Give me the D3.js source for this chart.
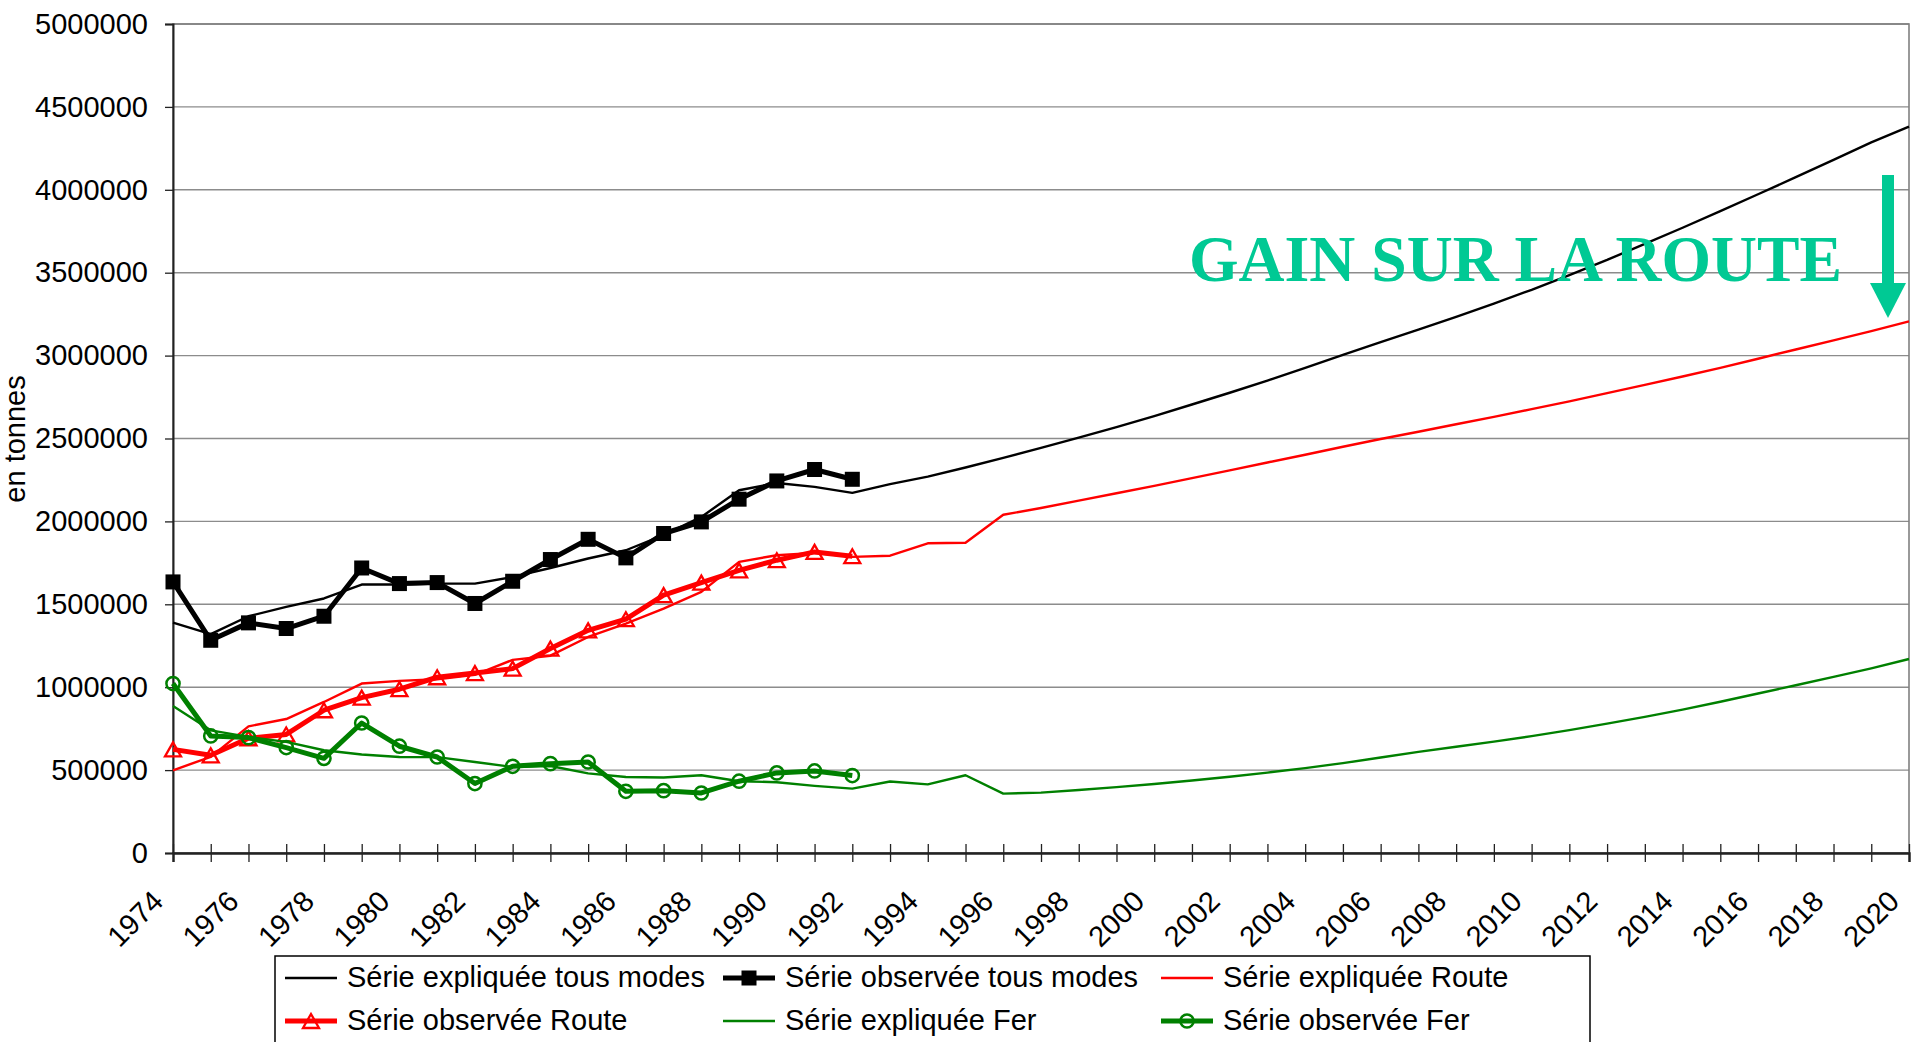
<!DOCTYPE html>
<html>
<head>
<meta charset="utf-8">
<script src="https://cdnjs.cloudflare.com/ajax/libs/d3/7.8.5/d3.min.js"></script>
<style>
  body { margin: 0; background: #fff; }
  svg { display: block; font-family: "Liberation Sans", Arial, sans-serif; }
</style>
</head>
<body>
<svg id="chart" width="1911" height="1042"></svg>
<script>
// categories
const years = [1974, 1975, 1976, 1977, 1978, 1979, 1980, 1981, 1982, 1983, 1984, 1985,
  1986, 1987, 1988, 1989, 1990, 1991, 1992, 1993, 1994, 1995, 1996, 1997, 1998, 1999,
  2000, 2001, 2002, 2003, 2004, 2005, 2006, 2007, 2008, 2009, 2010, 2011, 2012, 2013,
  2014, 2015, 2016, 2017, 2018, 2019, 2020];
const observedYears = years.slice(0, 19); // 1974 - 1992

const yTicks = [0, 500000, 1000000, 1500000, 2000000, 2500000, 3000000, 3500000, 4000000, 4500000, 5000000];

// series (tonnes)
const explTous = [1390000, 1320000, 1428000, 1484000, 1535000, 1619000, 1619000, 1625000,
  1625000, 1665000, 1719000, 1776000, 1826000, 1917000, 2027000, 2188000, 2232000, 2208000,
  2172000, 2225000, 2270000, 2325000, 2383000, 2444000, 2505000, 2569000, 2635000, 2705000,
  2776000, 2849000, 2926000, 3004000, 3081000, 3156000, 3234000, 3314000, 3397000, 3486000,
  3577000, 3674000, 3771000, 3871000, 3973000, 4076000, 4181000, 4286000, 4381000];
const obsTous = [1635000, 1283000, 1388000, 1354000, 1428000, 1719000, 1625000, 1631000,
  1505000, 1639000, 1770000, 1892000, 1780000, 1927000, 1997000, 2134000, 2244000, 2313000, 2254000];

const explRoute = [499000, 580000, 764000, 808000, 911000, 1022000, 1038000, 1048000,
  1075000, 1165000, 1190000, 1303000, 1384000, 1474000, 1575000, 1756000, 1796000, 1810000,
  1786000, 1793000, 1868000, 1871000, 2040000, 2081000, 2125000, 2170000, 2214000, 2261000,
  2308000, 2355000, 2402000, 2450000, 2497000, 2541000, 2586000, 2630000, 2677000, 2724000,
  2774000, 2823000, 2874000, 2926000, 2981000, 3037000, 3092000, 3148000, 3206000];
const obsRoute = [625000, 589000, 692000, 715000, 861000, 937000, 988000, 1060000, 1085000,
  1112000, 1233000, 1343000, 1410000, 1555000, 1631000, 1705000, 1766000, 1816000, 1790000];

const explFer = [887000, 740000, 700000, 670000, 620000, 594000, 579000, 578000, 549000,
  519000, 525000, 480000, 458000, 455000, 469000, 433000, 427000, 405000, 388000, 431000,
  414000, 469000, 358000, 364000, 380000, 397000, 416000, 437000, 460000, 485000, 512000,
  542000, 576000, 610000, 641000, 672000, 705000, 741000, 780000, 821000, 865000, 912000,
  962000, 1012000, 1062000, 1114000, 1170000];
const obsFer = [1022000, 706000, 696000, 636000, 571000, 784000, 644000, 579000, 419000,
  523000, 539000, 549000, 372000, 376000, 362000, 433000, 483000, 495000, 467000];

const series = [
  { name: 'Série expliquée tous modes', years: years, values: explTous, color: '#000000', width: 2.4, marker: null },
  { name: 'Série observée tous modes', years: observedYears, values: obsTous, color: '#000000', width: 5, marker: 'square' },
  { name: 'Série expliquée Route', years: years, values: explRoute, color: '#ff0000', width: 2.4, marker: null },
  { name: 'Série observée Route', years: observedYears, values: obsRoute, color: '#ff0000', width: 5, marker: 'triangle' },
  { name: 'Série expliquée Fer', years: years, values: explFer, color: '#008000', width: 2.4, marker: null },
  { name: 'Série observée Fer', years: observedYears, values: obsFer, color: '#008000', width: 5, marker: 'circle' }
];

const svg = d3.select('#chart');
const plot = { left: 173, right: 1909, top: 24, bottom: 853 };

const x = d3.scalePoint().domain(years).range([plot.left, plot.right]);
const y = d3.scaleLinear().domain([0, 5000000]).range([plot.bottom, plot.top]);

// gridlines + plot border
svg.append('g')
  .selectAll('line')
  .data(yTicks)
  .enter().append('line')
  .attr('x1', plot.left).attr('x2', plot.right)
  .attr('y1', d => y(d)).attr('y2', d => y(d))
  .attr('stroke', '#8c8c8c')
  .attr('stroke-width', 1.4);

svg.append('rect')
  .attr('x', plot.left).attr('y', plot.top)
  .attr('width', plot.right - plot.left).attr('height', plot.bottom - plot.top)
  .attr('fill', 'none')
  .attr('stroke', '#808080')
  .attr('stroke-width', 1.6);

// y axis
const yAxis = svg.append('g')
  .attr('transform', `translate(${plot.left},0)`)
  .call(d3.axisLeft(y).tickValues(yTicks).tickSize(8).tickPadding(17).tickFormat(d => String(d)));
yAxis.select('.domain').attr('stroke', '#222').attr('stroke-width', 2);
yAxis.selectAll('.tick line').attr('stroke', '#222').attr('stroke-width', 1.3);
yAxis.selectAll('text')
  .attr('font-size', 29)
  .attr('fill', '#000')
  .style('font-family', '"Liberation Sans", Arial, sans-serif');

// x axis, ticks cross the line
const xDown = svg.append('g')
  .attr('transform', `translate(0,${plot.bottom})`)
  .call(d3.axisBottom(x).tickValues(years).tickSize(9).tickFormat(''));
const xUp = svg.append('g')
  .attr('transform', `translate(0,${plot.bottom})`)
  .call(d3.axisTop(x).tickValues(years).tickSize(9).tickFormat(''));
xUp.select('.domain').remove();
xDown.select('.domain').attr('stroke', '#222').attr('stroke-width', 2.4);
svg.selectAll('.tick line').attr('stroke', '#222').attr('stroke-width', 1.3);

svg.append('g')
  .selectAll('text')
  .data(years.filter(d => d % 2 === 0))
  .enter().append('text')
  .attr('transform', d => `translate(${x(d) - 8},903) rotate(-45)`)
  .attr('text-anchor', 'end')
  .attr('font-size', 29)
  .text(d => d);

// y title
svg.append('text')
  .attr('transform', 'translate(25,439) rotate(-90)')
  .attr('text-anchor', 'middle')
  .attr('font-size', 29)
  .text('en tonnes');

// markers
const triangle = 'M0,-7L8,7L-8,7Z';

function drawMarker(sel, type, color) {
  if (type === 'square') {
    sel.append('rect')
      .attr('x', -7.5).attr('y', -7.5).attr('width', 15).attr('height', 15)
      .attr('fill', color);
  } else if (type === 'triangle') {
    sel.append('path')
      .attr('d', triangle)
      .attr('fill', 'none')
      .attr('stroke', color)
      .attr('stroke-width', 2.3);
  } else if (type === 'circle') {
    sel.append('circle')
      .attr('r', 6.6)
      .attr('fill', 'none')
      .attr('stroke', color)
      .attr('stroke-width', 2.5);
  }
}

const line = d3.line()
  .x(d => x(d.year))
  .y(d => y(d.value));

series.forEach(s => {
  const pts = s.years.map((yr, i) => ({ year: yr, value: s.values[i] }));
  const g = svg.append('g');
  g.append('path')
    .datum(pts)
    .attr('d', line)
    .attr('fill', 'none')
    .attr('stroke', s.color)
    .attr('stroke-width', s.width)
    .attr('stroke-linejoin', 'round');
  if (s.marker) {
    g.selectAll('.mk')
      .data(pts)
      .enter().append('g')
      .attr('class', 'mk')
      .attr('transform', d => `translate(${x(d.year)},${y(d.value)})`)
      .each(function () { drawMarker(d3.select(this), s.marker, s.color); });
  }
});

// annotation
svg.append('text')
  .attr('x', 1189)
  .attr('y', 281)
  .attr('font-size', 66)
  .attr('font-weight', 'bold')
  .attr('textLength', 653)
  .attr('lengthAdjust', 'spacingAndGlyphs')
  .style('font-family', '"Liberation Serif", "Times New Roman", serif')
  .attr('fill', '#00c994')
  .text('GAIN SUR LA ROUTE');

svg.append('rect')
  .attr('x', 1882).attr('y', 175)
  .attr('width', 12).attr('height', 110)
  .attr('fill', '#00c994');
svg.append('path')
  .attr('d', 'M1870,283L1906,283L1888,318Z')
  .attr('fill', '#00c994');

// legend
const legend = svg.append('g');
legend.append('rect')
  .attr('x', 275).attr('y', 956)
  .attr('width', 1315).attr('height', 120)
  .attr('fill', '#fff')
  .attr('stroke', '#000')
  .attr('stroke-width', 1.5);

const colX = [285, 723, 1161];
const rowY = [978, 1021];

series.forEach((s, i) => {
  const cx = colX[i % 3];
  const cy = rowY[Math.floor(i / 3)];
  const item = legend.append('g').attr('transform', `translate(${cx},${cy})`);
  item.append('line')
    .attr('x1', 0).attr('x2', 52)
    .attr('stroke', s.color)
    .attr('stroke-width', s.width);
  if (s.marker) {
    drawMarker(item.append('g').attr('transform', 'translate(26,0)'), s.marker, s.color);
  }
  item.append('text')
    .attr('x', 62)
    .attr('y', 9)
    .attr('font-size', 29)
    .text(s.name);
});
</script>
</body>
</html>
